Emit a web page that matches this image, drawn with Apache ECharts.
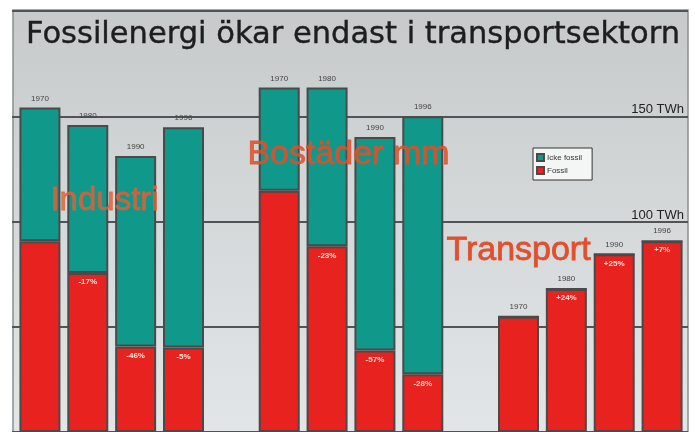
<!DOCTYPE html>
<html>
<head>
<meta charset="utf-8">
<script src="https://cdn.jsdelivr.net/npm/echarts@6/dist/echarts.min.js"></script>
<style>
    html, body { margin: 0; padding: 0; background: #ffffff; }
    #main { width: 695px; height: 432px; }
</style>
</head>
<body>
<div id="main"></div>
<script type="text/javascript">
    // årtal per sektor
    const years = ['1970', '1980', '1990', '1996'];
    // TWh (totalt resp. fossilt)
    const industriTotal = [154.2, 145.8, 131.1, 144.8];
    const industriFossil = [90.6, 75.5, 40.6, 40.1];
    const bostaderTotal = [163.7, 163.7, 140.1, 150.0];
    const bostaderFossil = [114.6, 88.2, 38.7, 27.4];
    const transportTotal = [54.7, 67.9, 84.4, 90.6];
    const transportFossil = [54.7, 67.9, 84.4, 90.6];
    // förändring av fossil andel jämfört med föregående stapel
    const industriPct = ['', '-17%', '-46%', '-5%'];
    const bostaderPct = ['', '-23%', '-57%', '-28%'];
    const transportPct = ['', '+24%', '+25%', '+7%'];

    // bygg en kategoriaxel med tomma luckor mellan sektorerna
    let categories = [], fossil = [], ickeFossil = [], pct = [];
    const groups = [
        [industriTotal, industriFossil, industriPct],
        [bostaderTotal, bostaderFossil, bostaderPct],
        [transportTotal, transportFossil, transportPct]
    ];
    groups.forEach(function (g, gi) {
        if (gi > 0) {
            categories.push('');
            fossil.push('-');
            ickeFossil.push('-');
            pct.push('');
        }
        for (let i = 0; i < years.length; i++) {
            categories.push(years[i]);
            fossil.push(g[1][i]);
            ickeFossil.push(+(g[0][i] - g[1][i]).toFixed(1));
            pct.push(g[2][i]);
        }
    });

    const RED = '#e8221e';
    const TEAL = '#10998a';
    const EDGE = '#4a4a4a';

    let myChart = echarts.init(document.getElementById('main'));
    let option = {
        backgroundColor: '#ffffff',
        animation: false,
        title: {
            text: 'Fossilenergi ökar endast i transportsektorn',
            left: 21,
            top: 15,
            textStyle: {
                fontFamily: 'DejaVu Sans',
                fontSize: 30.5,
                fontWeight: 'normal',
                color: '#1e1e1e',
                textBorderColor: '#1e1e1e',
                textBorderWidth: 0.4
            }
        },
        legend: {
            data: ['Icke fossil', 'Fossil'],
            orient: 'vertical',
            left: 533,
            top: 148,
            itemWidth: 7,
            itemHeight: 7,
            itemGap: 4,
            icon: 'rect',
            padding: [5, 10, 5, 3],
            backgroundColor: '#f4f6f6',
            borderColor: '#333333',
            borderWidth: 1,
            textStyle: { fontSize: 8, color: '#333', padding: [0, 0, 0, -2] }
        },
        graphic: [
            {
                type: 'rect',
                z: -10,
                shape: { x: 13, y: 10, width: 675, height: 430 },
                style: {
                    fill: new echarts.graphic.LinearGradient(0, 0, 0, 1, [
                        { offset: 0, color: '#c6cacb' },
                        { offset: 0.5, color: '#d5d9da' },
                        { offset: 1, color: '#e2e6e8' }
                    ]),
                    stroke: '#8a8e90',
                    lineWidth: 1.5
                }
            },
            {
                type: 'text', z: 100, left: 50, top: 184,
                style: {
                    text: 'Industri', font: '33px "Liberation Sans"',
                    fill: 'rgba(222,96,56,0.82)', stroke: 'rgba(222,96,56,0.82)', lineWidth: 0.8
                }
            },
            {
                type: 'text', z: 100, left: 247, top: 137,
                style: {
                    text: 'Bostäder mm', font: '34px "Liberation Sans"',
                    fill: 'rgba(222,80,44,0.85)', stroke: 'rgba(222,80,44,0.85)', lineWidth: 0.8
                }
            },
            {
                type: 'text', z: 100, left: 446, top: 233,
                style: {
                    text: 'Transport', font: '34px "Liberation Sans"',
                    fill: '#e0502e', stroke: '#e0502e', lineWidth: 0.8
                }
            }
        ],
        grid: [
            { left: 12, right: 7, top: 11, bottom: -3 },
            { left: 16, right: 9, top: 11, bottom: -3 }
        ],
        xAxis: [
            { type: 'value', gridIndex: 0, show: false, min: 0, max: 1 },
            { type: 'category', gridIndex: 1, data: categories, show: false }
        ],
        yAxis: [
            {
                type: 'value', gridIndex: 0, min: 0, max: 200, interval: 50,
                position: 'right',
                axisLine: { show: false },
                axisTick: { show: false },
                splitLine: { lineStyle: { color: '#505456', width: 2 } },
                axisLabel: {
                    inside: true,
                    margin: 4,
                    verticalAlign: 'bottom',
                    fontFamily: 'Liberation Sans',
                    fontSize: 13,
                    color: '#222',
                    formatter: function (v) {
                        return (v === 100 || v === 150) ? v + ' TWh' : '';
                    }
                }
            },
            { type: 'value', gridIndex: 1, min: 0, max: 200, show: false, splitLine: { show: false } }
        ],
        series: [
            {
                name: 'Fossil',
                type: 'bar',
                xAxisIndex: 1, yAxisIndex: 1,
                stack: 'tot',
                barWidth: 41,
                data: fossil,
                itemStyle: { color: RED, borderColor: EDGE, borderWidth: 2 },
                label: {
                    show: true,
                    position: 'insideTop',
                    distance: 5,
                    fontSize: 8,
                    fontWeight: 'bold',
                    color: '#ffe2d6',
                    formatter: function (p) { return pct[p.dataIndex]; }
                }
            },
            {
                name: 'Icke fossil',
                type: 'bar',
                xAxisIndex: 1, yAxisIndex: 1,
                stack: 'tot',
                barWidth: 41,
                data: ickeFossil,
                itemStyle: { color: TEAL, borderColor: EDGE, borderWidth: 2 },
                label: {
                    show: true,
                    position: 'top',
                    distance: 5,
                    fontSize: 8,
                    color: '#444',
                    formatter: function (p) { return categories[p.dataIndex]; }
                }
            }
        ]
    };
    myChart.setOption(option);
</script>
</body>
</html>
